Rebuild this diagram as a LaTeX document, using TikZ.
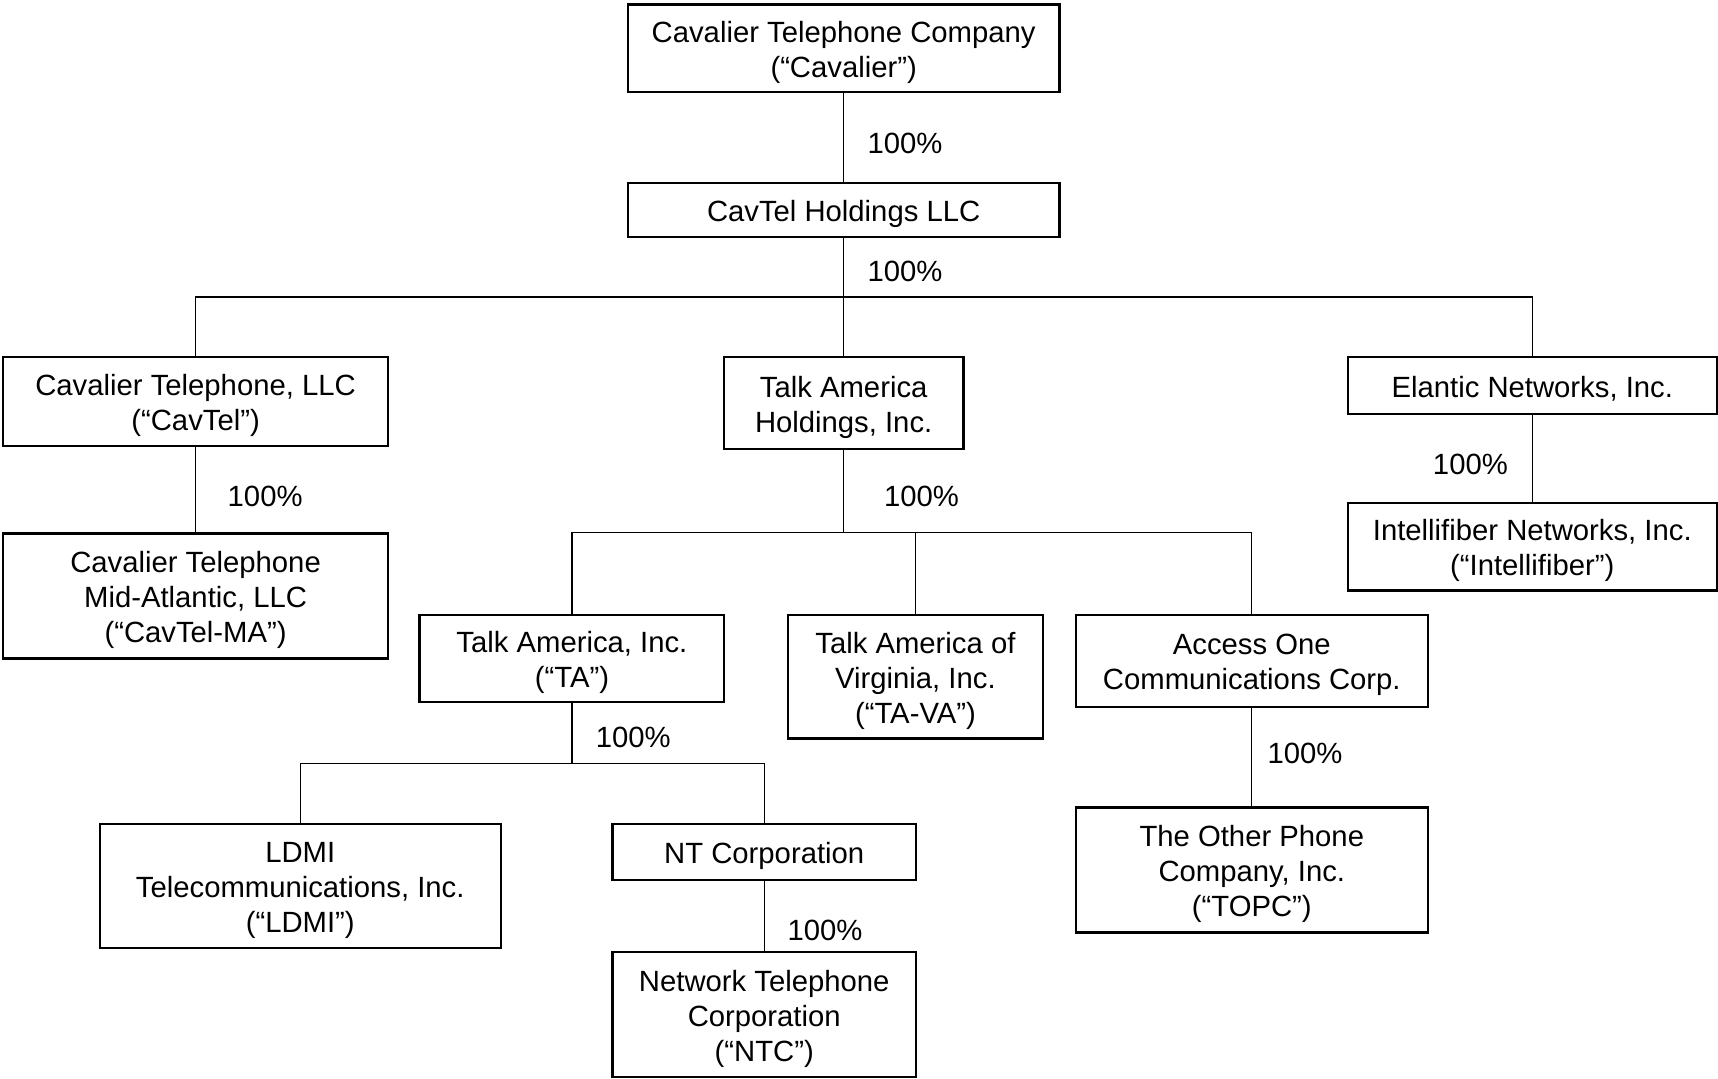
\documentclass[tikz,border=0pt]{standalone}
\usepackage{fontspec}
\setmainfont{Liberation Sans}
% text of a company box: centred lines, nudged a little down
\newcommand{\cotext}[1]{\begin{tabular}{@{}c@{}}\rule{0pt}{8.8pt}#1\end{tabular}}
\begin{document}
\begin{tikzpicture}[line width=0.35pt,
        company/.style={draw,line width=0.6pt,inner sep=0pt,
                font=\fontsize{7.6}{9.1}\selectfont},
        pct/.style={font=\fontsize{7.6}{9.1}\selectfont}]
        \useasboundingbox (0,0) rectangle (15.68,-9.84);

        % draw the companies, top to bottom
        \node[company,minimum width=3.94cm,minimum height=0.80cm] (cavalier) at (7.70,-0.44)
                {\cotext{Cavalier Telephone Company\\(“Cavalier”)}};
        \node[company,minimum width=3.94cm,minimum height=0.49cm] (holdings) at (7.70,-1.915)
                {\cotext{CavTel Holdings LLC}};
        \node[company,minimum width=3.51cm,minimum height=0.81cm] (cavtel) at (1.785,-3.665)
                {\cotext{Cavalier Telephone, LLC\\(“CavTel”)}};
        \node[company,minimum width=2.19cm,minimum height=0.84cm] (tahold) at (7.70,-3.68)
                {\cotext{Talk America\\Holdings, Inc.}};
        \node[company,minimum width=3.37cm,minimum height=0.52cm] (elantic) at (13.985,-3.52)
                {\cotext{Elantic Networks, Inc.}};
        \node[company,minimum width=3.51cm,minimum height=1.14cm] (cavtelma) at (1.785,-5.44)
                {\cotext{Cavalier Telephone\\Mid-Atlantic, LLC\\(“CavTel-MA”)}};
        \node[company,minimum width=3.37cm,minimum height=0.80cm] (intelli) at (13.985,-4.99)
                {\cotext{Intellifiber Networks, Inc.\\(“Intellifiber”)}};
        \node[company,minimum width=2.78cm,minimum height=0.80cm] (ta) at (5.22,-6.01)
                {\cotext{Talk America, Inc.\\(“TA”)}};
        \node[company,minimum width=2.33cm,minimum height=1.13cm] (tava) at (8.355,-6.175)
                {\cotext{Talk America of\\Virginia, Inc.\\(“TA-VA”)}};
        \node[company,minimum width=3.21cm,minimum height=0.84cm] (accessone) at (11.425,-6.03)
                {\cotext{Access One\\Communications Corp.}};
        \node[company,minimum width=3.66cm,minimum height=1.13cm] (ldmi) at (2.74,-8.085)
                {\cotext{LDMI\\Telecommunications, Inc.\\(“LDMI”)}};
        \node[company,minimum width=2.77cm,minimum height=0.51cm] (ntcorp) at (6.975,-7.775)
                {\cotext{NT Corporation}};
        \node[company,minimum width=2.77cm,minimum height=1.14cm] (ntc) at (6.975,-9.26)
                {\cotext{Network Telephone\\Corporation\\(“NTC”)}};
        \node[company,minimum width=3.21cm,minimum height=1.14cm] (topc) at (11.425,-7.94)
                {\cotext{The Other Phone\\Company, Inc.\\(“TOPC”)}};

        % the corners of the ownership lines
        \coordinate (busholdings) at (7.70,-2.71);
        \coordinate (bustahold) at (7.70,-4.86);
        \coordinate (busta) at (5.22,-6.97);

        % draw the ownership lines
        \draw (cavalier.south) -- (holdings.north);
        \draw (holdings.south) -- (tahold.north);
        \draw (cavtel.north) |- (busholdings) -| (elantic.north);
        \draw (cavtel.south) -- (cavtelma.north);
        \draw (elantic.south) -- (intelli.north);
        \draw (tahold.south) -- (bustahold);
        \draw (ta.north) |- (bustahold) -| (accessone.north);
        \draw (tava.north) -- (tava.north |- bustahold);
        \draw (ta.south) -- (busta);
        \draw (ldmi.north) |- (busta) -| (ntcorp.north);
        \draw (ntcorp.south) -- (ntc.north);
        \draw (accessone.south) -- (topc.north);

        % draw each share
        \foreach \x/\y [count=\i] in {
            8.26/1.31,
            8.26/2.48,
            2.42/4.53,
            8.41/4.53,
            13.42/4.24,
            5.78/6.73,
            11.91/6.88,
            7.53/8.49}
                \node[pct] (share\i) at (\x,-\y) {100\%};
\end{tikzpicture}
\end{document}
